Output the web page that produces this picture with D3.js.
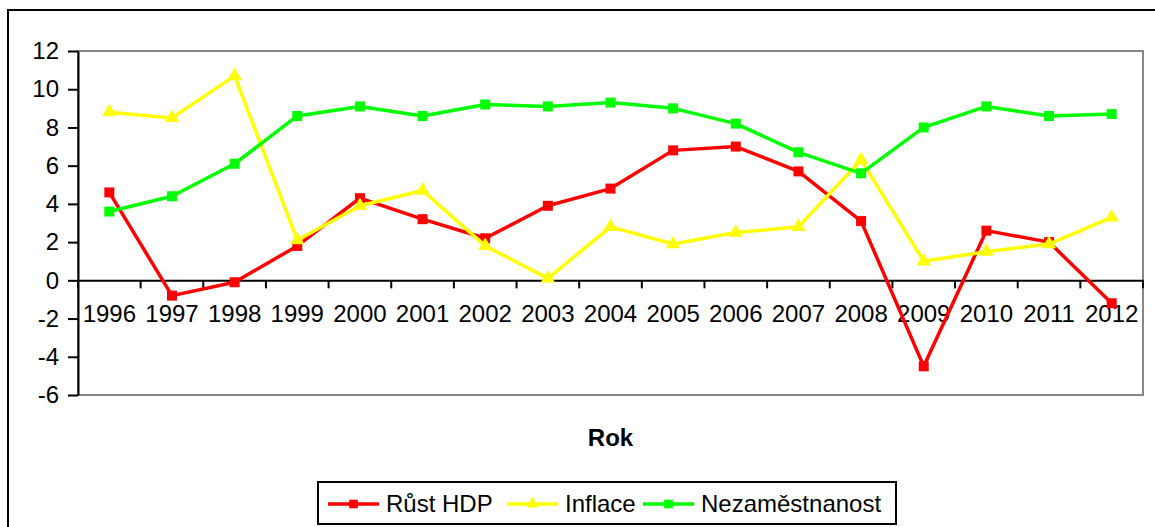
<!DOCTYPE html>
<html>
<head>
<meta charset="utf-8">
<script src="https://cdn.jsdelivr.net/npm/d3@7"></script>
<style>
  body { margin: 0; background: #fff; }
  svg { display: block; font-family: "Liberation Sans", Arial, sans-serif; }
</style>
</head>
<body>
<div id="chart"></div>
<script>
// data
const years = ['1996', '1997', '1998', '1999', '2000', '2001', '2002', '2003', '2004',
  '2005', '2006', '2007', '2008', '2009', '2010', '2011', '2012'];
const rustHdp = [4.6, -0.8, -0.1, 1.8, 4.3, 3.2, 2.2, 3.9, 4.8, 6.8, 7.0, 5.7, 3.1, -4.5, 2.6, 2.0, -1.2];
const inflace = [8.8, 8.5, 10.7, 2.1, 3.9, 4.7, 1.8, 0.1, 2.8, 1.9, 2.5, 2.8, 6.3, 1.0, 1.5, 1.9, 3.3];
const nezamestnanost = [3.6, 4.4, 6.1, 8.6, 9.1, 8.6, 9.2, 9.1, 9.3, 9.0, 8.2, 6.7, 5.6, 8.0, 9.1, 8.6, 8.7];
const yTicks = [-6, -4, -2, 0, 2, 4, 6, 8, 10, 12];

const series = [
  { name: 'Růst HDP', values: rustHdp, color: '#ff0000', symbol: d3.symbolSquare, size: 100 },
  { name: 'Inflace', values: inflace, color: '#ffff00', symbol: d3.symbolTriangle, size: 90 },
  { name: 'Nezaměstnanost', values: nezamestnanost, color: '#00ff00', symbol: d3.symbolSquare, size: 100 }
];

const width = 1155;
const height = 527;
const plot = { left: 78, top: 51, right: 1143, bottom: 395 };
const fontSize = 24;

const svg = d3.select('#chart').append('svg')
  .attr('width', width)
  .attr('height', height);

// outer frame (runs off the right and bottom edge)
svg.append('rect')
  .attr('x', 8).attr('y', 10)
  .attr('width', 1160).attr('height', 540)
  .attr('fill', '#fff')
  .attr('stroke', '#000')
  .attr('stroke-width', 2);

const x = d3.scaleBand()
  .domain(years)
  .range([plot.left, plot.right]);

const y = d3.scaleLinear()
  .domain([-6, 12])
  .range([plot.bottom, plot.top]);

// plot area border
svg.append('rect')
  .attr('x', plot.left).attr('y', plot.top)
  .attr('width', plot.right - plot.left)
  .attr('height', plot.bottom - plot.top)
  .attr('fill', 'none')
  .attr('stroke', '#888')
  .attr('stroke-width', 2);

// y axis
const yAxis = svg.append('g')
  .attr('transform', `translate(${plot.left},0)`)
  .call(d3.axisLeft(y).tickValues(yTicks).tickFormat(d => String(d))
    .tickSize(10).tickPadding(9).tickSizeOuter(0));
yAxis.select('.domain').attr('stroke', '#000').attr('stroke-width', 2);
yAxis.selectAll('.tick line').attr('stroke', '#000').attr('stroke-width', 2);
yAxis.selectAll('.tick text')
  .attr('font-size', fontSize)
  .attr('font-family', '"Liberation Sans", Arial, sans-serif')
  .attr('fill', '#000');

// x axis on the zero line, ticks between categories
const xAxis = svg.append('g')
  .attr('transform', `translate(0,${y(0)})`)
  .call(d3.axisBottom(x).tickSize(0).tickPadding(25).tickSizeOuter(0));
xAxis.select('.domain').attr('stroke', '#000').attr('stroke-width', 2);
xAxis.selectAll('.tick text')
  .attr('font-size', fontSize)
  .attr('font-family', '"Liberation Sans", Arial, sans-serif')
  .attr('fill', '#000');

const bounds = years.map(d => x(d)).concat([plot.right]);
svg.append('g')
  .selectAll('line')
  .data(bounds)
  .enter()
  .append('line')
  .attr('x1', d => d).attr('x2', d => d)
  .attr('y1', y(0)).attr('y2', y(0) + 8)
  .attr('stroke', '#000')
  .attr('stroke-width', 2);

// axis title
svg.append('text')
  .attr('x', (plot.left + plot.right) / 2)
  .attr('y', 446)
  .attr('text-anchor', 'middle')
  .attr('font-size', fontSize)
  .attr('font-weight', 'bold')
  .text('Rok');

// series
const line = d3.line()
  .x((d, i) => x(years[i]) + x.bandwidth() / 2)
  .y(d => y(d));

series.forEach(s => {
  const g = svg.append('g');
  g.append('path')
    .datum(s.values)
    .attr('d', line)
    .attr('fill', 'none')
    .attr('stroke', s.color)
    .attr('stroke-width', 3.5)
    .attr('stroke-linejoin', 'round');
  g.selectAll('path.mark')
    .data(s.values)
    .enter()
    .append('path')
    .attr('class', 'mark')
    .attr('d', d3.symbol().type(s.symbol).size(s.size))
    .attr('transform', (d, i) => `translate(${x(years[i]) + x.bandwidth() / 2},${y(d)})`)
    .attr('fill', s.color);
});

// legend
const legend = svg.append('g');
legend.append('rect')
  .attr('x', 318).attr('y', 482)
  .attr('width', 578).attr('height', 42)
  .attr('fill', '#fff')
  .attr('stroke', '#000')
  .attr('stroke-width', 2);

const legendX = [328, 507, 643];
series.forEach((s, i) => {
  const lx = legendX[i];
  legend.append('line')
    .attr('x1', lx).attr('x2', lx + 51)
    .attr('y1', 504).attr('y2', 504)
    .attr('stroke', s.color)
    .attr('stroke-width', 3.5);
  legend.append('path')
    .attr('d', d3.symbol().type(s.symbol).size(s.size * 0.75))
    .attr('transform', `translate(${lx + 25.5},504)`)
    .attr('fill', s.color);
  legend.append('text')
    .attr('x', lx + 58)
    .attr('y', 512)
    .attr('font-size', fontSize)
    .text(s.name);
});
</script>
</body>
</html>
